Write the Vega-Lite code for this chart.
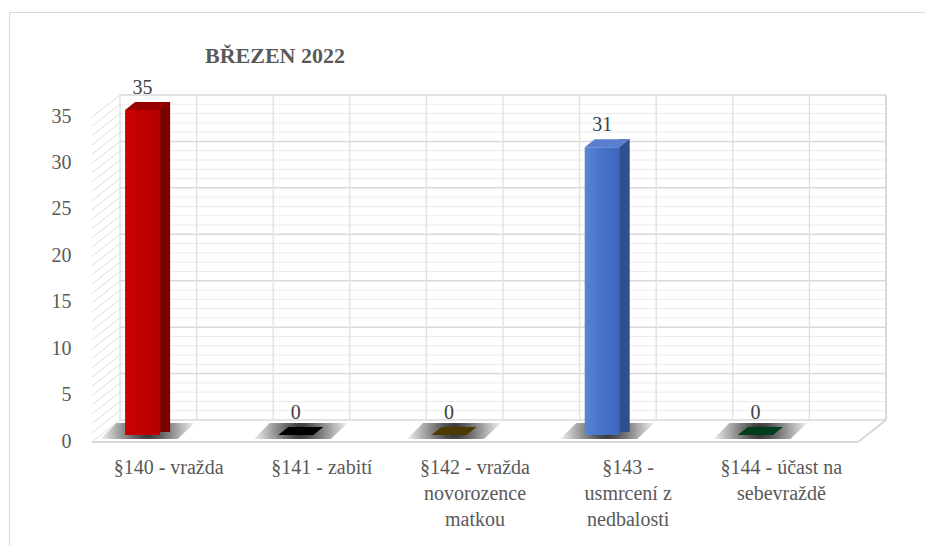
{
  "$schema": "https://vega.github.io/schema/vega-lite/v6.json",
  "autosize": "none",
  "padding": {"left": 9, "top": 12, "right": 0, "bottom": 0},
  "width": 916,
  "height": 534,
  "background": "white",
  "config": {
    "view": {"stroke": "#d9d9d9", "strokeWidth": 1},
    "font": "Liberation Serif",
    "axisX": {
      "orient": "bottom", "offset": -89, "domain": false, "ticks": false, "grid": false,
      "labelPadding": 0, "labelAngle": 0, "labelFont": "Liberation Serif", "labelFontSize": 20,
      "labelColor": "#595959", "labelOffset": -28, "labelLineHeight": 26, "labelLimit": 300,
      "labelOverlap": false
    },
    "axisY": {
      "orient": "left", "offset": -62,
      "domain": false, "ticks": false, "grid": false, "labelPadding": 0,
      "labelFont": "Liberation Serif", "labelFontSize": 20, "labelColor": "#595959",
      "labelOffset": 21
    }
  },
  "title": {
    "text": "BŘEZEN 2022",
    "anchor": "start",
    "font": "Liberation Serif",
    "fontSize": 22,
    "fontWeight": "bold",
    "color": "#595959",
    "baseline": "bottom",
    "offset": 0,
    "dx": 196,
    "dy": 78
  },
  "datasets": {
    "main": [
      {"paragraf": "§140 - vražda", "pocet": 35},
      {"paragraf": "§141 - zabití", "pocet": 0},
      {"paragraf": "§142 - vražda novorozence matkou", "pocet": 0},
      {"paragraf": "§143 - usmrcení z nedbalosti", "pocet": 31},
      {"paragraf": "§144 - účast na sebevraždě", "pocet": 0}
    ],
    "grid": [
      {"v": 0, "k": "major"}, {"v": 1, "k": "minor"}, {"v": 2, "k": "minor"}, {"v": 3, "k": "minor"}, {"v": 4, "k": "minor"},
      {"v": 5, "k": "major"}, {"v": 6, "k": "minor"}, {"v": 7, "k": "minor"}, {"v": 8, "k": "minor"}, {"v": 9, "k": "minor"},
      {"v": 10, "k": "major"}, {"v": 11, "k": "minor"}, {"v": 12, "k": "minor"}, {"v": 13, "k": "minor"}, {"v": 14, "k": "minor"},
      {"v": 15, "k": "major"}, {"v": 16, "k": "minor"}, {"v": 17, "k": "minor"}, {"v": 18, "k": "minor"}, {"v": 19, "k": "minor"},
      {"v": 20, "k": "major"}, {"v": 21, "k": "minor"}, {"v": 22, "k": "minor"}, {"v": 23, "k": "minor"}, {"v": 24, "k": "minor"},
      {"v": 25, "k": "major"}, {"v": 26, "k": "minor"}, {"v": 27, "k": "minor"}, {"v": 28, "k": "minor"}, {"v": 29, "k": "minor"},
      {"v": 30, "k": "major"}, {"v": 31, "k": "minor"}, {"v": 32, "k": "minor"}, {"v": 33, "k": "minor"}, {"v": 34, "k": "minor"},
      {"v": 35, "k": "major"}
    ]
  },
  "resolve": {"scale": {"color": "independent"}},
  "layer": [
    {
      "data": {"name": "grid"},
      "mark": {"type": "rule", "color": "#dcdcdc", "strokeWidth": 1, "x2Offset": -28, "y2Offset": 22},
      "encoding": {
        "x": {
          "datum": "§140 - vražda", "type": "nominal", "bandPosition": 0, "title": null,
          "scale": {
            "domain": ["§140 - vražda", "§141 - zabití", "§142 - vražda novorozence matkou", "§143 - usmrcení z nedbalosti", "§144 - účast na sebevraždě"],
            "range": [111, 877], "paddingInner": 0, "paddingOuter": 0
          },
          "axis": {
            "title": null,
            "labelExpr": "datum.value == '§142 - vražda novorozence matkou' ? ['§142 - vražda', 'novorozence', 'matkou'] : datum.value == '§143 - usmrcení z nedbalosti' ? ['§143 -', 'usmrcení z', 'nedbalosti'] : datum.value == '§144 - účast na sebevraždě' ? ['§144 - účast na', 'sebevraždě'] : datum.value"
          }
        },
        "x2": {"datum": "§140 - vražda", "bandPosition": 0},
        "y": {
          "field": "v", "type": "quantitative", "title": null,
          "scale": {"domain": [0, 35], "range": [408, 83], "nice": false, "zero": true},
          "axis": {"title": null, "values": [0, 5, 10, 15, 20, 25, 30, 35]}
        },
        "y2": {"field": "v"}
      }
    },
    {
      "data": {"name": "grid"},
      "transform": [{"filter": "datum.k == 'minor'"}],
      "mark": {"type": "rule", "color": "#ebebeb", "strokeWidth": 1},
      "encoding": {
        "x": {"datum": "§140 - vražda", "type": "nominal", "bandPosition": 0, "title": null},
        "x2": {"datum": "§144 - účast na sebevraždě", "bandPosition": 1},
        "y": {"field": "v", "type": "quantitative", "title": null}
      }
    },
    {
      "data": {"name": "grid"},
      "transform": [{"filter": "datum.k == 'major'"}],
      "mark": {"type": "rule", "color": "#d9d9d9", "strokeWidth": 1.5},
      "encoding": {
        "x": {"datum": "§140 - vražda", "type": "nominal", "bandPosition": 0, "title": null},
        "x2": {"datum": "§144 - účast na sebevraždě", "bandPosition": 1},
        "y": {"field": "v", "type": "quantitative", "title": null}
      }
    },
    {
      "data": {"name": "main"},
      "mark": {"type": "rule", "color": "#e0e0e0", "strokeWidth": 1.3},
      "encoding": {
        "x": {"field": "paragraf", "type": "nominal", "bandPosition": 0, "title": null},
        "y": {"datum": 0, "type": "quantitative", "title": null},
        "y2": {"datum": 35}
      }
    },
    {
      "data": {"name": "main"},
      "mark": {"type": "rule", "color": "#e0e0e0", "strokeWidth": 1.3},
      "encoding": {
        "x": {"field": "paragraf", "type": "nominal", "bandPosition": 0.5, "title": null},
        "y": {"datum": 0, "type": "quantitative", "title": null},
        "y2": {"datum": 35}
      }
    },
    {
      "data": {"name": "main"},
      "mark": {"type": "rule", "color": "#d9d9d9", "strokeWidth": 1.3},
      "encoding": {
        "x": {"datum": "§144 - účast na sebevraždě", "type": "nominal", "bandPosition": 1, "title": null},
        "y": {"datum": 0, "type": "quantitative", "title": null},
        "y2": {"datum": 35}
      }
    },
    {
      "data": {"name": "main"},
      "mark": {"type": "rule", "color": "#d9d9d9", "strokeWidth": 1.5, "xOffset": -28, "x2Offset": -28, "yOffset": 22},
      "encoding": {
        "x": {"datum": "§140 - vražda", "type": "nominal", "bandPosition": 0, "title": null},
        "x2": {"datum": "§144 - účast na sebevraždě", "bandPosition": 1},
        "y": {"datum": 0, "type": "quantitative", "title": null}
      }
    },
    {
      "data": {"name": "main"},
      "mark": {"type": "rule", "color": "#d9d9d9", "strokeWidth": 1.5, "x2Offset": -28, "y2Offset": 22},
      "encoding": {
        "x": {"datum": "§144 - účast na sebevraždě", "type": "nominal", "bandPosition": 1, "title": null},
        "x2": {"datum": "§144 - účast na sebevraždě", "bandPosition": 1},
        "y": {"datum": 0, "type": "quantitative", "title": null},
        "y2": {"datum": 0}
      }
    },
    {
      "data": {"name": "main"},
      "mark": {
        "type": "point", "filled": true, "opacity": 1, "size": 10000, "strokeWidth": 0,
        "shape": "M -0.62 -0.16 L 0.94 -0.16 L 0.6 0.16 L -0.94 0.16 Z",
        "xOffset": -49, "yOffset": 11,
        "fill": {
          "gradient": "radial", "x1": 0.5, "y1": 0.5, "r1": 0, "x2": 0.5, "y2": 0.5, "r2": 0.5,
          "stops": [
            {"offset": 0, "color": "#262626"},
            {"offset": 0.5, "color": "#8a8a8a"},
            {"offset": 1, "color": "#f0f0f0"}
          ]
        }
      },
      "encoding": {
        "x": {"field": "paragraf", "type": "nominal", "title": null},
        "y": {"datum": 0, "type": "quantitative", "title": null}
      }
    },
    {
      "data": {"name": "main"},
      "transform": [{"filter": "datum.pocet > 0"}],
      "mark": {"type": "bar", "width": 11, "xOffset": -32, "yOffset": 7, "y2Offset": 12},
      "encoding": {
        "x": {"field": "paragraf", "type": "nominal", "title": null},
        "y": {"field": "pocet", "type": "quantitative", "title": null},
        "y2": {"datum": 0},
        "color": {
          "field": "paragraf", "type": "nominal", "legend": null,
          "scale": {"domain": ["§140 - vražda", "§143 - usmrcení z nedbalosti"], "range": ["#7a0000", "#2f4f8f"]}
        }
      }
    },
    {
      "data": {"name": "main"},
      "transform": [{"filter": "datum.paragraf == '§140 - vražda'"}],
      "mark": {
        "type": "bar", "width": 35, "xOffset": -54, "yOffset": 15, "y2Offset": 15,
        "fill": {
          "gradient": "linear", "x1": 0, "y1": 0, "x2": 1, "y2": 0,
          "stops": [
            {"offset": 0, "color": "#cc0000"},
            {"offset": 0.5, "color": "#c00000"},
            {"offset": 1, "color": "#b50000"}
          ]
        }
      },
      "encoding": {
        "x": {"field": "paragraf", "type": "nominal", "title": null},
        "y": {"field": "pocet", "type": "quantitative", "title": null},
        "y2": {"datum": 0}
      }
    },
    {
      "data": {"name": "main"},
      "transform": [{"filter": "datum.paragraf == '§143 - usmrcení z nedbalosti'"}],
      "mark": {
        "type": "bar", "width": 35, "xOffset": -54, "yOffset": 15, "y2Offset": 15,
        "fill": {
          "gradient": "linear", "x1": 0, "y1": 0, "x2": 1, "y2": 0,
          "stops": [
            {"offset": 0, "color": "#5a84d4"},
            {"offset": 0.5, "color": "#4673c8"},
            {"offset": 1, "color": "#3c66ba"}
          ]
        }
      },
      "encoding": {
        "x": {"field": "paragraf", "type": "nominal", "title": null},
        "y": {"field": "pocet", "type": "quantitative", "title": null},
        "y2": {"datum": 0}
      }
    },
    {
      "data": {"name": "main"},
      "mark": {
        "type": "point", "filled": true, "opacity": 1, "size": 10000, "strokeWidth": 0,
        "shape": "M -0.45 0.08 L 0.25 0.08 L 0.45 -0.08 L -0.25 -0.08 Z",
        "xOffset": -49, "yOffset": 11
      },
      "encoding": {
        "x": {"field": "paragraf", "type": "nominal", "title": null},
        "y": {"field": "pocet", "type": "quantitative", "title": null},
        "color": {
          "field": "paragraf", "type": "nominal", "legend": null,
          "scale": {
            "domain": ["§140 - vražda", "§141 - zabití", "§142 - vražda novorozence matkou", "§143 - usmrcení z nedbalosti", "§144 - účast na sebevraždě"],
            "range": ["#960000", "#000000", "#4d3a00", "#5a7fcc", "#003d1d"]
          }
        }
      }
    },
    {
      "data": {"name": "main"},
      "mark": {
        "type": "text", "font": "Liberation Serif", "fontSize": 20, "color": "#404040",
        "align": "center", "baseline": "middle", "xOffset": -54, "yOffset": -7
      },
      "encoding": {
        "x": {"field": "paragraf", "type": "nominal", "title": null},
        "y": {"field": "pocet", "type": "quantitative", "title": null},
        "text": {"field": "pocet", "type": "quantitative"}
      }
    }
  ]
}
